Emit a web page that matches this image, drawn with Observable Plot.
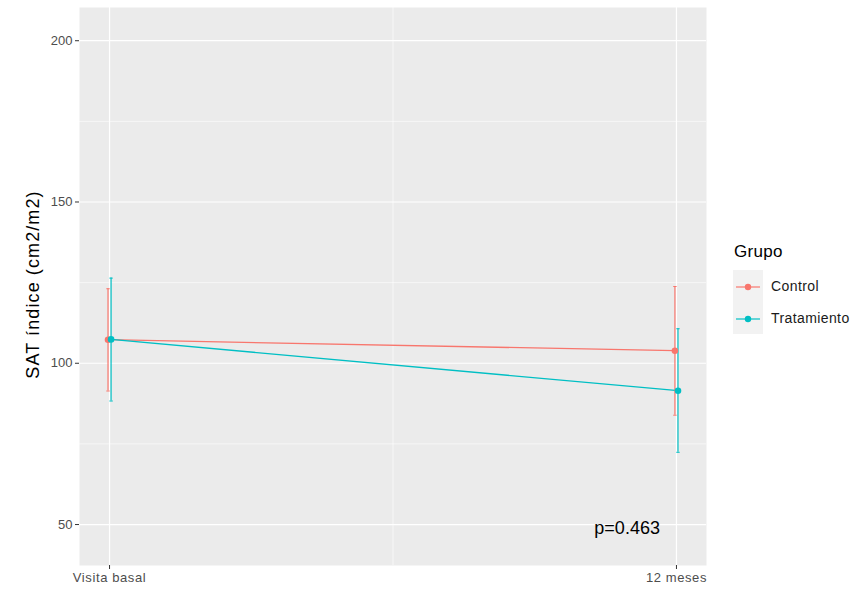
<!DOCTYPE html>
<html><head><meta charset="utf-8">
<script src="https://cdn.jsdelivr.net/npm/d3@7"></script>
<script src="https://cdn.jsdelivr.net/npm/@observablehq/plot@0.6"></script>
<style>
body{margin:0;background:#fff;font-family:"Liberation Sans",Arial,sans-serif;}
#wrap{position:relative;width:859px;height:594px;}
#legend{position:absolute;left:733px;top:239px;}
#legend .title{font-size:17px;letter-spacing:0.3px;color:#000;margin-left:1px;height:31px;line-height:26px;}
#legend .keys{position:absolute;left:0;top:31px;width:30px;height:64px;background:#F2F2F2;}
#legend .lab{position:absolute;left:38px;font-size:14px;letter-spacing:0.4px;color:#1a1a1a;white-space:nowrap;}
g[aria-label="y-axis tick label"]{font-size:13px;}
g[aria-label="x-axis tick label"]{font-size:13px;letter-spacing:0.6px;}
</style></head><body><div id="wrap"></div>
<script>
const groups = ["Control", "Tratamiento"];
const visits = ["Visita basal", "12 meses"];
const visitPos = [1, 2];
const controlMean = [107.3, 103.9];
const controlLow = [91.4, 83.9];
const controlHigh = [123.1, 123.8];
const tratMean = [107.4, 91.5];
const tratLow = [88.3, 72.4];
const tratHigh = [126.4, 110.7];
const colors = ["#F8766D", "#00BFC4"];
const yTicks = [50, 100, 150, 200];
const yMinor = [75, 125, 175];
const xMinor = [1.5];
const yLabel = "SAT índice (cm2/m2)";
const pLabel = "p=0.463";
const pPos = {x: 1.913, y: 49.0};

const dodge = 0.0027, cap = 0.003;
const rows = [];
groups.forEach((g, gi) => {
  const m = gi === 0 ? controlMean : tratMean;
  const lo = gi === 0 ? controlLow : tratLow;
  const hi = gi === 0 ? controlHigh : tratHigh;
  visitPos.forEach((v, vi) => {
    rows.push({group: g, x: v + (gi === 0 ? -dodge : dodge), mean: m[vi], low: lo[vi], high: hi[vi]});
  });
});

const plot = Plot.plot({
  width: 859, height: 594,
  marginLeft: 79, marginRight: 153, marginTop: 7, marginBottom: 29,
  style: {fontFamily: "'Liberation Sans', Arial, sans-serif", background: "white"},
  x: {domain: [0.947, 2.053]},
  y: {domain: [37.3, 210.3]},
  color: {domain: groups, range: colors},
  marks: [
    Plot.frame({fill: "#EBEBEB"}),
    Plot.ruleY(yMinor, {stroke: "white", strokeWidth: 0.6}),
    Plot.ruleX(xMinor, {stroke: "white", strokeWidth: 0.6}),
    Plot.ruleY(yTicks, {stroke: "white", strokeWidth: 1.2}),
    Plot.ruleX(visitPos, {stroke: "white", strokeWidth: 1.2}),
    Plot.line(rows, {x: "x", y: "mean", stroke: "group", z: "group", strokeWidth: 1.3}),
    Plot.ruleX(rows, {x: "x", y1: "low", y2: "high", stroke: "group", strokeWidth: 1.2}),
    Plot.link(rows, {x1: d => d.x - cap, x2: d => d.x + cap, y1: "low", y2: "low", stroke: "group", strokeWidth: 1}),
    Plot.link(rows, {x1: d => d.x - cap, x2: d => d.x + cap, y1: "high", y2: "high", stroke: "group", strokeWidth: 1}),
    Plot.dot(rows, {x: "x", y: "mean", fill: "group", r: 3.3}),
    Plot.text([pLabel], {x: () => pPos.x, y: () => pPos.y, fontSize: 18, fill: "black"}),
    Plot.axisY(yTicks, {tickSize: 4, stroke: "#333", text: null, label: null}),
    Plot.axisY(yTicks, {tickSize: 0, tickPadding: 7, fill: "#4D4D4D", fontSize: 13, label: null}),
    Plot.axisX(visitPos, {tickSize: 4, stroke: "#333", text: null, label: null}),
    Plot.axisX(visitPos, {tickSize: 0, tickPadding: 7, fill: "#4D4D4D", fontSize: 13, label: null, tickFormat: d => visits[d - 1]}),
    Plot.text([yLabel], {frameAnchor: "left", rotate: -90, dx: -46, dy: -2, textAnchor: "middle", fontSize: 18, fill: "black"})
  ]
});
const wrap = document.getElementById("wrap");
wrap.appendChild(plot);
// widen the rotated axis title slightly
d3.select(plot).selectAll("text").filter(function() { return this.textContent === yLabel; })
  .style("letter-spacing", "1.1px");

// legend
const leg = d3.select(wrap).append("div").attr("id", "legend");
leg.append("div").attr("class", "title").text("Grupo");
leg.append("div").attr("class", "keys");
groups.forEach((g, i) => {
  const top = 31 + 17 + i * 32;
  const svg = leg.append("svg").attr("width", 30).attr("height", 12)
    .style("position", "absolute").style("left", "0px").style("top", (top - 6) + "px");
  svg.append("line").attr("x1", 3).attr("x2", 27).attr("y1", 6).attr("y2", 6)
    .attr("stroke", colors[i]).attr("stroke-width", 1.2);
  svg.append("circle").attr("cx", 15).attr("cy", 6).attr("r", 3.2).attr("fill", colors[i]);
  leg.append("div").attr("class", "lab").style("top", (top - 9) + "px").text(g);
});
</script>
</body></html>
